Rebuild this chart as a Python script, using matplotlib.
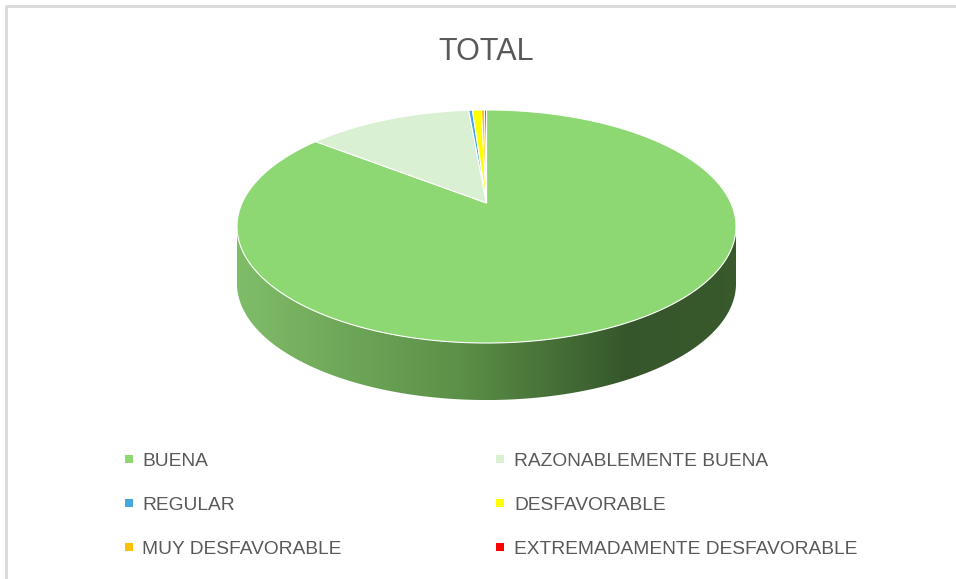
"""
Pie chart "TOTAL" drawn as a tilted 3D disc (Excel look).
"""
import numpy as np
import matplotlib
matplotlib.use("Agg")
from matplotlib import pyplot as plt
from matplotlib import transforms as mtransforms
from matplotlib.path import Path
from matplotlib.patches import PathPatch, Rectangle

title = "TOTAL"
categories = [
    "BUENA",
    "RAZONABLEMENTE BUENA",
    "REGULAR",
    "DESFAVORABLE",
    "MUY DESFAVORABLE",
    "EXTREMADAMENTE DESFAVORABLE",
]
shares = [85.6, 13.0, 0.3, 0.7, 0.25, 0.15]
colors = ["#8ED873", "#DAF0D2", "#44A9E0", "#FFFF00", "#FFC000", "#FF0000"]

FONT = ["Liberation Sans", "DejaVu Sans"]
TEXT_GREY = "#595959"

# disc geometry in pixels
CX, CY = 486.5, 203.0     # where the pie centre lands
A, B = 244.4, 111.8       # horizontal / vertical half axes
K = 0.2016                # perspective strength
DEPTH = 57.0              # thickness of the disc


class Tilt(mtransforms.Transform):
    """Map the unit pie disc to pixels, viewed from above with perspective."""
    input_dims = output_dims = 2

    def __init__(self, drop=0.0):
        super().__init__()
        self.drop = drop

    def transform_non_affine(self, xy):
        xy = np.asarray(xy, dtype=float)
        shape = xy.shape
        xy = xy.reshape(-1, 2)
        u = xy[:, 0]
        v = -xy[:, 1]
        w = 1 - K * v
        out = np.column_stack([CX + A * u / w, CY + B * v / w + self.drop])
        return out.reshape(shape)

    def transform_path_non_affine(self, path):
        # flatten the bezier arcs finely before bending them
        scale = 2000.0
        polys = path.to_polygons(mtransforms.Affine2D().scale(scale))
        parts = [Path(self.transform_non_affine(p / scale), closed=True) for p in polys]
        return Path.make_compound_path(*parts)


fig = plt.figure(figsize=(9.56, 5.79), dpi=100)
ax = fig.add_axes([0, 0, 1, 1])

top = Tilt()
bottom = Tilt(drop=DEPTH)

# side wall of the disc (front half only is visible)
t0 = np.degrees(np.arcsin(K))
theta = np.radians(np.linspace(180 + t0, 360 - t0, 240))
rim = np.column_stack([np.cos(theta), np.sin(theta)])
upper = top.transform(rim)
lower = bottom.transform(rim)
verts = np.vstack([upper, lower[::-1], upper[:1]])
side = PathPatch(Path(verts, closed=True), facecolor="none", edgecolor="none")
ax.add_patch(side)

stops = [0.0, 0.45, 0.78, 1.0]
reds = [0.50, 0.36, 0.21, 0.22]
greens = [0.74, 0.56, 0.34, 0.35]
blues = [0.41, 0.28, 0.17, 0.17]
g = np.linspace(0, 1, 256)
grad = np.stack([np.interp(g, stops, reds), np.interp(g, stops, greens),
                 np.interp(g, stops, blues)], axis=-1)[None, :, :]
x0, x1 = verts[:, 0].min(), verts[:, 0].max()
y0, y1 = verts[:, 1].min(), verts[:, 1].max()
im = ax.imshow(grad, extent=(x0, x1, y1, y0), aspect="auto",
               interpolation="bicubic", zorder=1)
im.set_clip_path(side)

# top face
wedges, _ = ax.pie(
    shares,
    colors=colors,
    startangle=90,
    counterclock=False,
    wedgeprops=dict(edgecolor="white", linewidth=0.8),
)
for w in wedges:
    w.set_transform(top + ax.transData)
    w.set_zorder(2)

ax.set_xlim(0, 956)
ax.set_ylim(579, 0)
ax.set_aspect("auto")
ax.axis("off")

ax.text(486, 60.5, title, ha="center", va="baseline", fontsize=22,
        color=TEXT_GREY, family=FONT)

# legend, two entries per row
col_x = [129, 500.5]
row_y = [466, 510.5, 554]
for i, (label, c) in enumerate(zip(categories, colors)):
    r, k = divmod(i, 2)
    x, y = col_x[k], row_y[r]
    ax.add_patch(Rectangle((x - 4, y - 11.5), 8, 8, facecolor=c, edgecolor="none"))
    ax.text(x + 13.5, y, label, ha="left", va="baseline", fontsize=13.8,
            color=TEXT_GREY, family=FONT)

# chart frame (only top and left edges fall inside the picture)
ax.plot([6, 6, 1000], [620, 6, 6], color="#D9D9D9", lw=2, solid_capstyle="butt")

fig.savefig("out.png", dpi=100)
